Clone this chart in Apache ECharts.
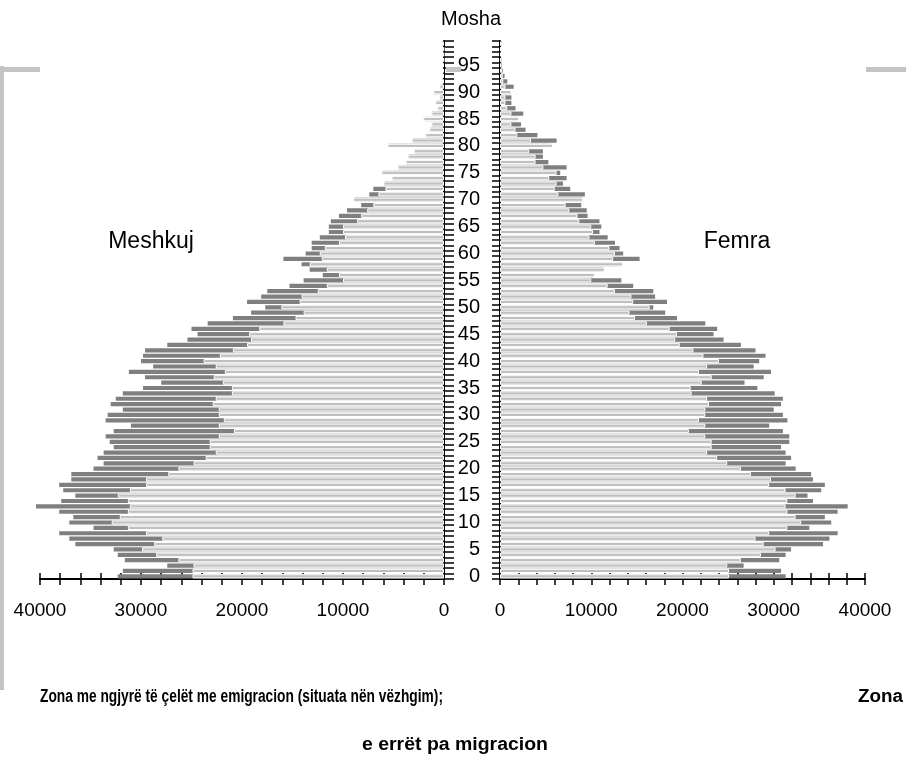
<!DOCTYPE html>
<html><head><meta charset="utf-8">
<script src="https://cdn.jsdelivr.net/npm/echarts@6/dist/echarts.min.js"></script>
<style>html,body{margin:0;padding:0;background:#fff}#c{width:906px;height:763px}</style>
</head><body><div id="c"></div>
<script>
const FONT = "'Liberation Sans', Arial, sans-serif";

const ages = ['0','1','2','3','4','5','6','7','8','9','10','11','12','13','14','15','16','17','18','19',
'20','21','22','23','24','25','26','27','28','29','30','31','32','33','34','35','36','37','38','39',
'40','41','42','43','44','45','46','47','48','49','50','51','52','53','54','55','56','57','58','59',
'60','61','62','63','64','65','66','67','68','69','70','71','72','73','74','75','76','77','78','79',
'80','81','82','83','84','85','86','87','88','89','90','91','92','93','94','95','96','97','98','99'];

const xTickLabels = [0, 10000, 20000, 30000, 40000];

// Meshkuj (males) - no migration (dark)
const menNoMigration = [
32300,31800,27400,31600,32300,32700,36500,37100,38100,34700,
37100,36700,38100,40400,37900,36500,37700,38100,36900,36900,
34700,33700,34300,33700,32700,33100,33500,32700,31000,33500,
33300,31800,33000,32500,31800,29800,28000,29600,31200,28800,
30000,29800,29600,27400,25400,24400,25000,23400,20900,19100,
17700,19500,18100,17500,15300,13900,12000,13300,14100,15900,
13700,13100,13100,12300,11400,11400,11200,10400,9600,8200,
8800,7400,7000,5900,5100,6100,4500,3700,3500,2900,
5500,3100,1800,1400,1200,2000,1200,600,800,400,
1000,400,200,100,100,100,50,50,50,200];

// Meshkuj (males) - with emigration (light)
const menEmigration = [
24900,24900,24800,26300,28500,29900,28700,27900,29500,31300,
32900,32100,31300,31100,31300,32300,31100,29500,29500,27300,
26300,24800,23600,22600,23200,23200,22300,20800,22300,21800,
22300,22300,22900,22600,21000,21000,21900,22800,21700,22600,
23800,22200,20900,19500,19100,19300,18300,15900,14700,13900,
16100,14300,14100,12500,11600,10000,10400,11600,13300,12100,
12300,11800,10400,9800,10000,10000,8600,8200,7600,7000,
9000,6500,5800,6000,5200,6200,4600,3800,3600,3000,
5600,3200,1850,1450,1250,2050,1250,660,860,460,
1060,460,200,150,100,100,50,50,50,200];

// Femra (females) - no migration (dark)
const womenNoMigration = [
31300,30800,26700,30600,31300,31900,35400,36100,37000,33900,
36300,35600,37000,38100,34300,33700,35200,35600,34300,34100,
32400,31300,31900,31300,30800,31700,31700,31000,29500,31500,
31000,30000,30800,31000,30100,28200,26800,28900,29700,27800,
28400,29100,28000,26400,24500,23400,23800,22500,19400,18100,
16800,18300,17000,16800,14600,13300,10200,11300,13300,15300,
13500,13100,12600,11800,10900,11100,10900,9600,9500,8900,
9000,9300,7700,6900,7300,6600,7300,5300,4700,4700,
5600,6200,4100,2800,2300,2000,2550,1700,1250,1250,
1200,1500,800,500,300,200,150,100,100,200];

// Femra (females) - with emigration (light)
const womenEmigration = [
25100,25100,24900,26400,28600,30200,28900,28000,29500,31500,
33000,32400,31500,31300,31500,32400,31300,29500,29700,27500,
26400,24900,23800,22700,23200,23200,22500,20700,22500,21800,
22500,22500,22900,22700,21000,20900,22100,23200,21800,22700,
24000,22300,21200,19700,19200,19400,18600,16100,14800,14200,
16400,14600,14400,12600,11800,10000,10400,11500,13500,12400,
12600,12000,10400,9800,10200,10000,8700,8500,7600,7200,
9100,6400,6000,6200,5400,6200,4750,3900,3900,3200,
5800,3400,1900,1700,1250,2100,1250,800,600,600,
1250,600,360,300,200,150,100,100,100,200];

const DARK = '#7f7f7f', LIGHT = '#bfbfbf';

function fitScale(str, font, target) {
  const ctx = document.createElement('canvas').getContext('2d');
  ctx.font = font;
  return target / ctx.measureText(str).width;
}

const chart = echarts.init(document.getElementById('c'), null, {renderer: 'canvas'});

const axisBlack = {color: '#000', width: 2};
const tickBlack = {color: '#000', width: 1.5};

function xAxisMain(gridIndex, inverse) {
  return {
    gridIndex, type: 'value', inverse, min: 0, max: 40000, interval: 2000, position: 'bottom',
    axisLine: {show: true, onZero: false, lineStyle: axisBlack},
    axisTick: {show: true, length: 6, lineStyle: tickBlack},
    axisLabel: {interval: 0, margin: 22, fontSize: 19, color: '#000', fontFamily: FONT,
      formatter: v => xTickLabels.indexOf(v) >= 0 ? String(v) : ''},
    splitLine: {show: false}
  };
}
function xAxisInner(gridIndex, inverse) {
  return {
    gridIndex, type: 'value', inverse, min: 0, max: 40000, interval: 2000, position: 'bottom',
    axisLine: {show: false},
    axisTick: {show: true, inside: true, length: 6, lineStyle: tickBlack},
    axisLabel: {show: false}, splitLine: {show: false}
  };
}

function barSeries(xi, yi, data, color, border) {
  return {
    type: 'bar', xAxisIndex: xi, yAxisIndex: yi, data, barWidth: 4.2, barGap: '-100%',
    clip: false, animation: false,
    itemStyle: border ? {color, borderColor: '#fff', borderWidth: 1} : {color}
  };
}

const line1 = 'Zona me ngjyrë të çelët me emigracion (situata nën vëzhgim);';
const line2 = 'e errët pa migracion';
const bfont = 'bold 18px ' + FONT;

chart.setOption({
  backgroundColor: '#fff',
  animation: false,
  grid: [
    {left: 40, top: 41, width: 404, height: 538},
    {left: 500, top: 41, width: 365, height: 538}
  ],
  xAxis: [xAxisMain(0, true), xAxisMain(1, false), xAxisInner(0, true), xAxisInner(1, false)],
  yAxis: [
    {gridIndex: 0, type: 'category', data: ages, position: 'right', boundaryGap: true,
      axisLine: {show: true, lineStyle: axisBlack},
      axisTick: {show: true, interval: 0, length: 10, lineStyle: tickBlack},
      axisLabel: {interval: 4, align: 'right', margin: 36, fontSize: 20, color: '#000', fontFamily: FONT},
      splitLine: {show: false}},
    {gridIndex: 1, type: 'category', data: ages, position: 'left', boundaryGap: true,
      axisLine: {show: true, lineStyle: axisBlack},
      axisTick: {show: true, interval: 0, length: 8, lineStyle: tickBlack},
      axisLabel: {show: false}, splitLine: {show: false}}
  ],
  series: [
    barSeries(0, 0, menNoMigration, DARK, false),
    barSeries(0, 0, menEmigration, LIGHT, true),
    barSeries(1, 1, womenNoMigration, DARK, false),
    barSeries(1, 1, womenEmigration, LIGHT, true)
  ],
  graphic: [
    {type: 'rect', z: -10, shape: {x: 0, y: 66, width: 4, height: 624}, style: {fill: '#c4c4c4'}},
    {type: 'rect', z: -10, shape: {x: 0, y: 67, width: 40, height: 5}, style: {fill: '#c4c4c4'}},
    {type: 'rect', z: 1, shape: {x: 446, y: 67, width: 15, height: 5}, style: {fill: '#c4c4c4'}},
    {type: 'rect', z: -10, shape: {x: 866, y: 67, width: 40, height: 5}, style: {fill: '#c4c4c4'}},
    {type: 'text', x: 471, y: 19, style: {text: 'Mosha', font: '20px ' + FONT, fill: '#000', textAlign: 'center', textVerticalAlign: 'middle'}},
    {type: 'text', x: 151, y: 242, style: {text: 'Meshkuj', font: '23px ' + FONT, fill: '#000', textAlign: 'center', textVerticalAlign: 'middle'}},
    {type: 'text', x: 737, y: 242, style: {text: 'Femra', font: '23px ' + FONT, fill: '#000', textAlign: 'center', textVerticalAlign: 'middle'}},
    {type: 'text', x: 40, y: 697, scaleX: fitScale(line1, bfont, 403),
      style: {text: line1, font: bfont, fill: '#000', textAlign: 'left', textVerticalAlign: 'middle'}},
    {type: 'text', x: 858, y: 697, scaleX: fitScale('Zona', bfont, 45),
      style: {text: 'Zona', font: bfont, fill: '#000', textAlign: 'left', textVerticalAlign: 'middle'}},
    {type: 'text', x: 455, y: 745, scaleX: fitScale(line2, bfont, 186),
      style: {text: line2, font: bfont, fill: '#000', textAlign: 'center', textVerticalAlign: 'middle'}}
  ]
});
</script></body></html>
